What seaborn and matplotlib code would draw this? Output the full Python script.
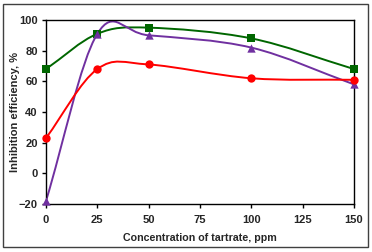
import numpy as np
import matplotlib
matplotlib.use("Agg")
import matplotlib.pyplot as plt
import seaborn as sns
from matplotlib.path import Path
from matplotlib.patches import PathPatch, Rectangle

conc = [0, 25, 50, 100, 150]
ie_square = [68, 91, 95, 88, 68]
ie_circle = [23, 68, 71, 62, 61]
ie_triangle = [-18, 91, 90, 82, 58]


def smooth_path(xs, ys):
    # Excel-style smoothed line: cubic Bezier segments through the data points
    pts = np.column_stack([xs, ys]).astype(float)
    n = len(pts)
    verts = [pts[0]]
    codes = [Path.MOVETO]
    for i in range(n - 1):
        p_prev = pts[i - 1] if i > 0 else 2 * pts[i] - pts[i + 1]
        p_next2 = pts[i + 2] if i + 2 < n else 2 * pts[i + 1] - pts[i]
        c1 = pts[i] + (pts[i + 1] - p_prev) / 6
        c2 = pts[i + 1] - (p_next2 - pts[i]) / 6
        verts += [c1, c2, pts[i + 1]]
        codes += [Path.CURVE4] * 3
    return Path(verts, codes)


sns.set_style("white")
plt.rcParams['font.family'] = ['Liberation Sans', 'DejaVu Sans']

fig = plt.figure(figsize=(3.72, 2.52), dpi=100)
ax = fig.add_axes([46 / 372, 48 / 252, 308 / 372, 184 / 252])

series = [
    (ie_square, "#006600", "s"),
    (ie_triangle, "#7030A0", "^"),
    (ie_circle, "#FF0000", "o"),
]
for ys, col, mk in series:
    ax.add_patch(PathPatch(smooth_path(conc, ys), facecolor="none",
                           edgecolor=col, lw=1.4, zorder=2))
    sns.scatterplot(x=conc, y=ys, marker=mk, color=col, s=36,
                    edgecolor=col, linewidth=0, ax=ax, zorder=3, clip_on=False)

ax.set_xlim(0, 150)
ax.set_ylim(-20, 100)
ax.set_xticks(range(0, 151, 25))
ax.set_yticks(range(-20, 101, 20))
for s in ax.spines.values():
    s.set_color("black")
    s.set_linewidth(1.0)
ax.tick_params(axis="x", pad=5)
ax.tick_params(axis="y", pad=3)
ax.tick_params(axis="both", direction="out", length=3, width=1, color="black",
               labelsize=8, bottom=True, left=True)
for lbl in ax.get_xticklabels() + ax.get_yticklabels():
    lbl.set_fontweight("bold")
ax.set_xlabel("Concentration of tartrate, ppm", fontsize=7.7, fontweight="bold", labelpad=6)
ax.set_ylabel("Inhibition efficiency, %", fontsize=8, fontweight="bold", labelpad=-1)

fig.patches.append(Rectangle((2.5 / 372, 5 / 252), 365 / 372, 243 / 252,
                             transform=fig.transFigure, fill=False,
                             edgecolor="#404040", lw=1.0))

fig.savefig("out.png", dpi=100)
